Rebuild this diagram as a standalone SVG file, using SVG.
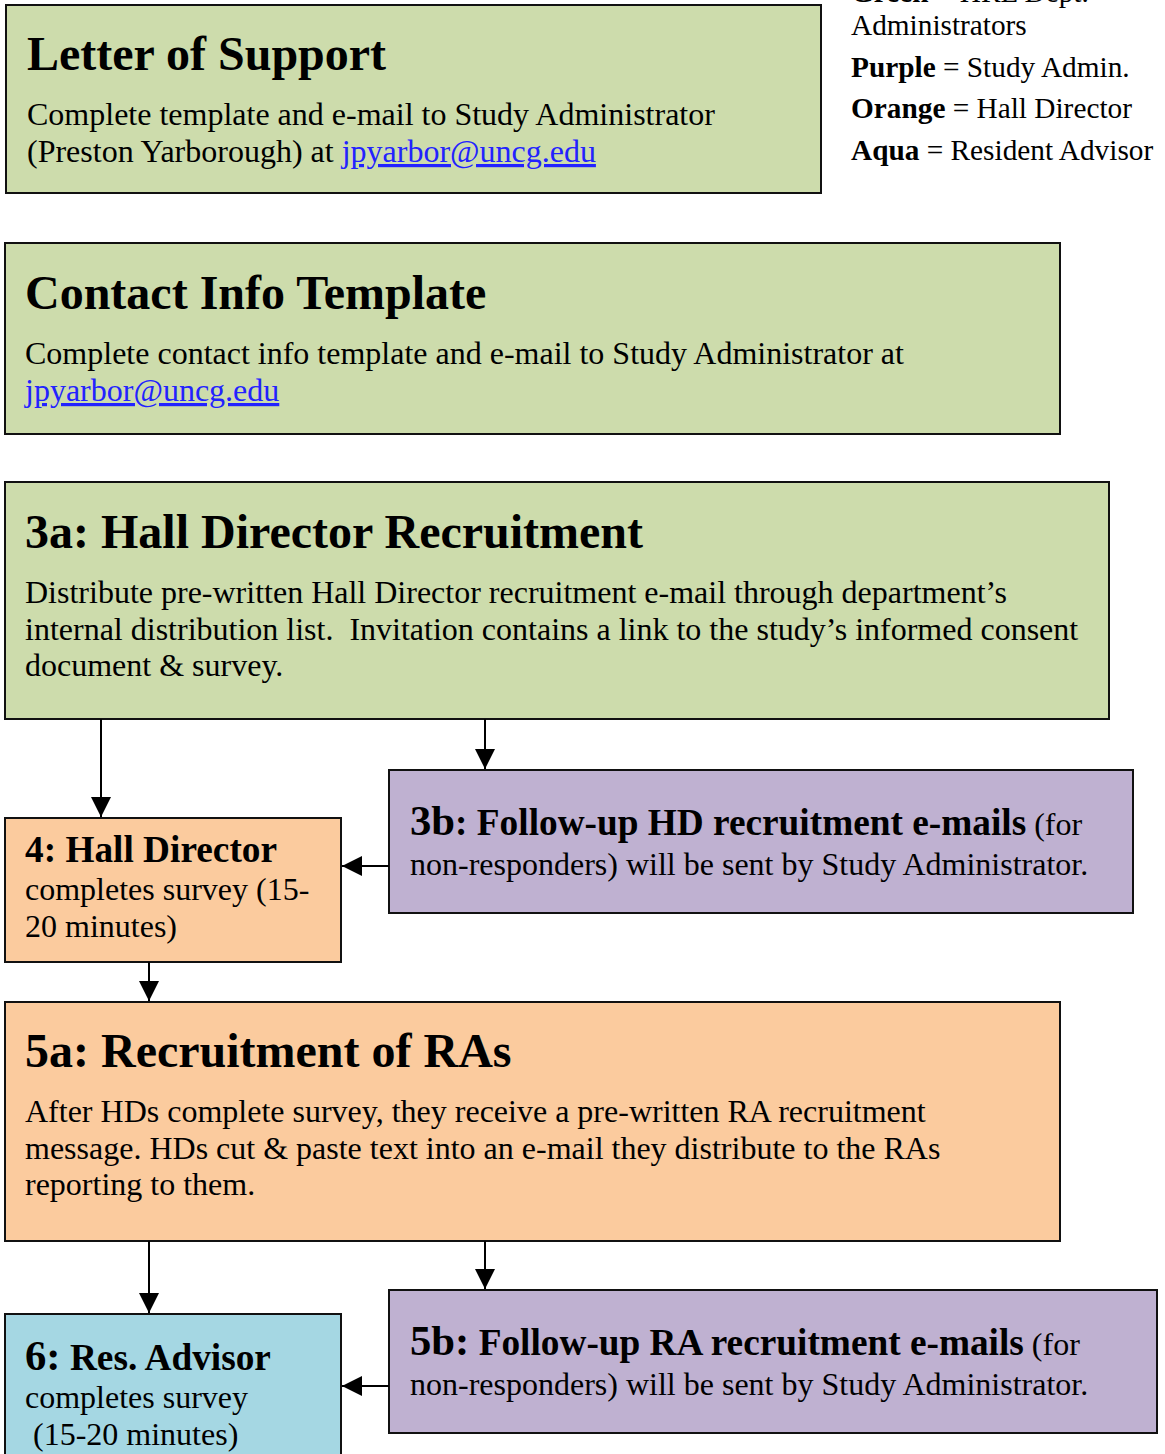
<svg xmlns="http://www.w3.org/2000/svg" width="1165" height="1454" viewBox="0 0 1165 1454">
<defs>
<style>
text{font-family:"Liberation Serif","Times New Roman",serif;fill:#000}
.box{stroke:#111;stroke-width:2}
.green{fill:#cddcac}
.orange{fill:#fbcb9e}
.purple{fill:#bfb1d1}
.aqua{fill:#a5d7e3}
.h1{font-size:48px;font-weight:bold}
.h2{font-size:37.3px;font-weight:bold}
.big{font-size:42.7px;font-weight:bold}
.b{font-size:32px}
.lg{font-size:29.3px}
.link{fill:#2222ff;text-decoration:underline}
.conn line{stroke:#000;stroke-width:2}
</style>
<marker id="arr" viewBox="0 0 20 20" refX="20" refY="10" markerWidth="20" markerHeight="20" markerUnits="userSpaceOnUse" orient="auto">
<path d="M0,0 L20,10 L0,20 z" fill="#000"/>
</marker>
</defs>
<rect width="1165" height="1454" fill="#fff"/>

<g id="legend">
<text class="lg" x="851" y="2"><tspan font-weight="bold">Green</tspan> = HRL Dept.</text>
<text class="lg" x="851" y="35">Administrators</text>
<text class="lg" x="851" y="77"><tspan font-weight="bold">Purple</tspan> = Study Admin.</text>
<text class="lg" x="851" y="118"><tspan font-weight="bold">Orange</tspan> = Hall Director</text>
<text class="lg" x="851" y="160"><tspan font-weight="bold">Aqua</tspan> = Resident Advisor</text>
</g>

<g id="letter-of-support">
<rect class="box green" x="6" y="5" width="815" height="188"/>
<text class="h1" x="27" y="70">Letter of Support</text>
<text class="b" x="27" y="125">Complete template and e-mail to Study Administrator</text>
<text class="b" x="27" y="162">(Preston Yarborough) at <tspan class="link">jpyarbor@uncg.edu</tspan></text>
</g>

<g id="contact-info-template">
<rect class="box green" x="5" y="243" width="1055" height="191"/>
<text class="h1" x="25" y="309">Contact Info Template</text>
<text class="b" x="25" y="364">Complete contact info template and e-mail to Study Administrator at</text>
<text class="b link" x="25" y="401">jpyarbor@uncg.edu</text>
</g>

<g id="step-3a">
<rect class="box green" x="5" y="482" width="1104" height="237"/>
<text class="h1" x="25" y="548">3a: Hall Director Recruitment</text>
<text class="b" x="25" y="603">Distribute pre-written Hall Director recruitment e-mail through department’s</text>
<text class="b" x="25" y="640">internal distribution list.&#160; Invitation contains a link to the study’s informed consent</text>
<text class="b" x="25" y="676">document &amp; survey.</text>
</g>

<g id="step-4">
<rect class="box orange" x="5" y="818" width="336" height="144"/>
<text class="h2" x="25" y="862">4: Hall Director</text>
<text class="b" x="25" y="900">completes survey (15-</text>
<text class="b" x="25" y="937">20 minutes)</text>
</g>

<g id="step-3b">
<rect class="box purple" x="389" y="770" width="744" height="143"/>
<text x="410" y="835"><tspan class="big">3b</tspan><tspan class="h2">: Follow-up HD recruitment e-mails</tspan><tspan class="b"> (for</tspan></text>
<text class="b" x="410" y="875">non-responders) will be sent by Study Administrator.</text>
</g>

<g id="step-5a">
<rect class="box orange" x="5" y="1002" width="1055" height="239"/>
<text class="h1" x="25" y="1067">5a: Recruitment of RAs</text>
<text class="b" x="25" y="1122">After HDs complete survey, they receive a pre-written RA recruitment</text>
<text class="b" x="25" y="1159">message. HDs cut &amp; paste text into an e-mail they distribute to the RAs</text>
<text class="b" x="25" y="1195">reporting to them.</text>
</g>

<g id="step-6">
<rect class="box aqua" x="5" y="1314" width="336" height="150"/>
<text x="25" y="1370"><tspan class="big" font-size="45px">6:</tspan><tspan class="h2"> Res. Advisor</tspan></text>
<text class="b" x="25" y="1408">completes survey</text>
<text class="b" x="25" y="1445">&#160;(15-20 minutes)</text>
</g>

<g id="step-5b">
<rect class="box purple" x="389" y="1290" width="768" height="143"/>
<text x="410" y="1355"><tspan class="big">5b:</tspan><tspan class="h2"> Follow-up RA recruitment e-mails</tspan><tspan class="b"> (for</tspan></text>
<text class="b" x="410" y="1395">non-responders) will be sent by Study Administrator.</text>
</g>

<g id="connectors" class="conn">
<line x1="101" y1="719" x2="101" y2="817" marker-end="url(#arr)"/>
<line x1="485" y1="719" x2="485" y2="769" marker-end="url(#arr)"/>
<line x1="389" y1="866" x2="342" y2="866" marker-end="url(#arr)"/>
<line x1="149" y1="962" x2="149" y2="1001" marker-end="url(#arr)"/>
<line x1="149" y1="1241" x2="149" y2="1313" marker-end="url(#arr)"/>
<line x1="485" y1="1241" x2="485" y2="1289" marker-end="url(#arr)"/>
<line x1="389" y1="1386" x2="342" y2="1386" marker-end="url(#arr)"/>
</g>
</svg>
